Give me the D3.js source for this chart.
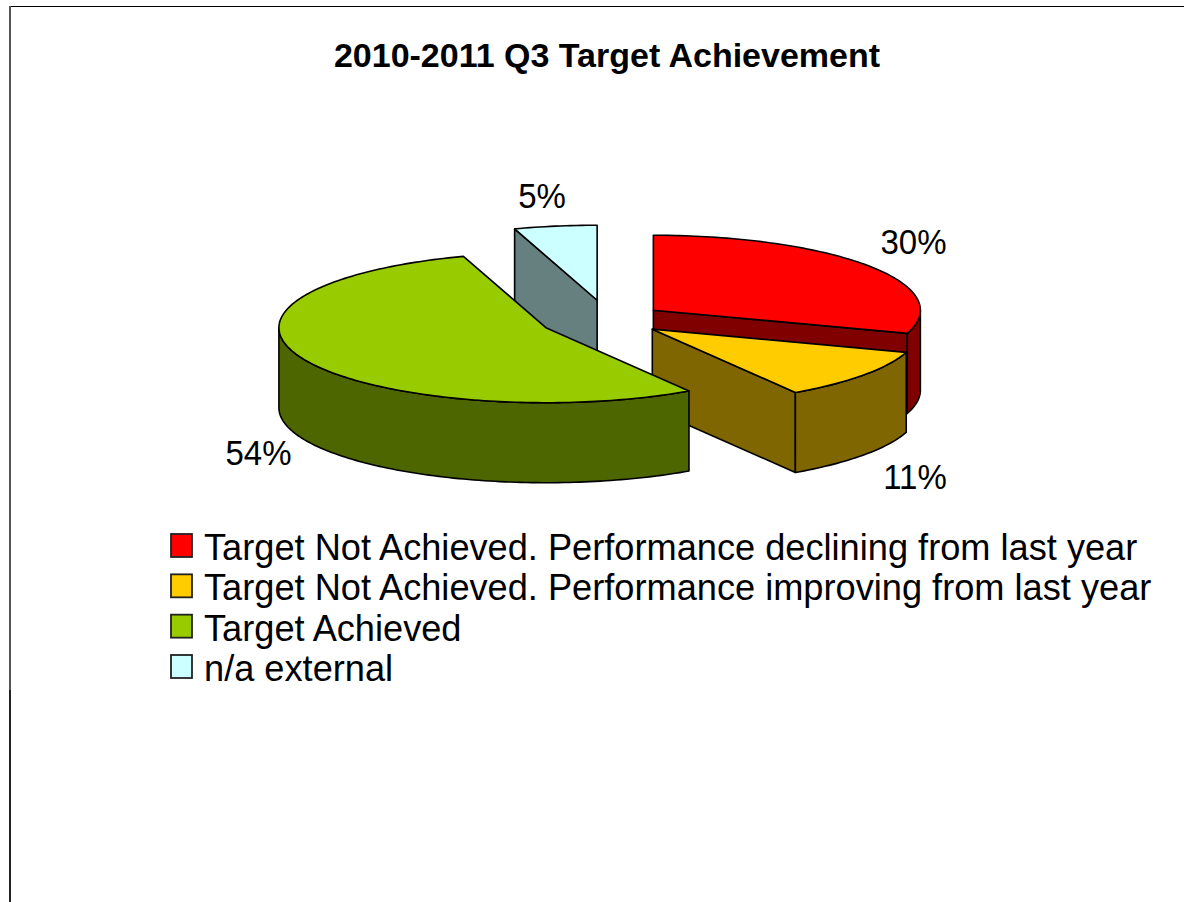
<!DOCTYPE html>
<html>
<head>
<meta charset="utf-8">
<script src="https://cdn.jsdelivr.net/npm/d3@7/dist/d3.min.js"></script>
<style>
  html, body { margin: 0; padding: 0; background: #fff; overflow: hidden; }
  svg { display: block; font-family: "Liberation Sans", Arial, sans-serif; }
</style>
</head>
<body>
<svg id="chart" width="1184" height="902"></svg>
<script>
const chartTitle = "2010-2011 Q3 Target Achievement";
const categories = [
  "Target Not Achieved. Performance declining from last year",
  "Target Not Achieved. Performance improving from last year",
  "Target Achieved",
  "n/a external"
];
const shares = [30, 11, 54, 5];
const explosion = [0.21, 0.21, 0.257, 0.26];
const topColors = ["#ff0000", "#ffcc00", "#99cc00", "#ccffff"];
const sideColors = ["#800000", "#806600", "#4d6600", "#668080"];

const width = 1184, height = 902;
const cx = 608, cy = 319.5, rx = 267, ry = 75, depth = 80;

const svg = d3.select("#chart");

// Page frame: top and left rules only
svg.append("path").attr("d", `M${width},6.5H10`).attr("stroke", "#000").attr("stroke-width", 1).attr("fill", "none");
svg.append("path").attr("d", "M10,6V690").attr("stroke", "#555").attr("stroke-width", 2).attr("fill", "none");
svg.append("path").attr("d", `M10,690V${height}`).attr("stroke", "#222").attr("stroke-width", 2).attr("fill", "none");

svg.append("text")
  .attr("x", 607).attr("y", 67)
  .attr("text-anchor", "middle")
  .attr("font-size", 34).attr("font-weight", 700)
  .text(chartTitle);

// Unit circle to tilted ellipse; v points up in unit space
const sx = d3.scaleLinear().domain([-1, 1]).range([cx - rx, cx + rx]);
const sy = d3.scaleLinear().domain([-1, 1]).range([cy + ry, cy - ry]);

const pie = d3.pie().sort(null).value(d => d.share).startAngle(0).endAngle(2 * Math.PI);
const slices = pie(categories.map((name, i) => ({ name, share: shares[i] })));

const outline = d3.line();

function project(s, angle, r, z) {
  const mid = (s.startAngle + s.endAngle) / 2;
  const e = explosion[s.index];
  const u = e * Math.sin(mid) + r * Math.sin(angle);
  const v = e * Math.cos(mid) + r * Math.cos(angle);
  return [sx(u), sy(v) + z];
}

function arcPoints(s, a0, a1, z) {
  const n = Math.max(2, Math.ceil((a1 - a0) / 0.02));
  return d3.range(n + 1).map(k => project(s, a0 + (a1 - a0) * k / n, 1, z));
}

// Straight wall from the apex out to the rim at a given angle
function radialWall(s, angle) {
  return [project(s, 0, 0, 0), project(s, angle, 1, 0), project(s, angle, 1, depth), project(s, 0, 0, depth)];
}

// Curved wall: only the front half of the rim can be seen
function rimWall(s) {
  const a0 = Math.max(s.startAngle, Math.PI / 2);
  const a1 = Math.min(s.endAngle, 3 * Math.PI / 2);
  if (a1 <= a0) return null;
  return arcPoints(s, a0, a1, 0).concat(arcPoints(s, a0, a1, depth).reverse());
}

function topFace(s) {
  return [project(s, 0, 0, 0)].concat(arcPoints(s, s.startAngle, s.endAngle, 0));
}

// Back to front: external, declining, improving, achieved
const drawOrder = [3, 0, 1, 2];
const pieGroup = svg.append("g")
  .attr("stroke", "#000").attr("stroke-width", 1.6).attr("stroke-linejoin", "round");

drawOrder.forEach(idx => {
  const s = slices[idx];
  const g = pieGroup.append("g");
  const addPoly = (pts, fill) => g.append("path").attr("d", outline(pts) + "Z").attr("fill", fill);

  // A radial wall shows only when its outward normal points toward the viewer
  if (Math.sin(s.startAngle) < -1e-9) addPoly(radialWall(s, s.startAngle), sideColors[idx]);
  if (Math.sin(s.endAngle) > 1e-9) addPoly(radialWall(s, s.endAngle), sideColors[idx]);

  const rim = rimWall(s);
  if (rim) addPoly(rim, sideColors[idx]);

  addPoly(topFace(s), topColors[idx]);
});

// Percentage labels placed around the slices, narrowed to fit their slots
const labelSpots = [[913.5, 254], [915, 489], [258.5, 465], [542, 208]];
svg.append("g").selectAll("text")
  .data(slices)
  .join("text")
  .attr("transform", (d, i) => `translate(${labelSpots[i][0]},${labelSpots[i][1]}) scale(0.917,1)`)
  .attr("text-anchor", "middle")
  .attr("font-size", 36)
  .text(d => `${d.data.share}%`);

// Legend
const rowY = d3.scalePoint().domain(d3.range(categories.length)).range([560, 681]);
const legend = svg.append("g").selectAll("g")
  .data(categories)
  .join("g")
  .attr("transform", (d, i) => `translate(0,${rowY(i)})`);

legend.append("rect")
  .attr("x", 171).attr("y", -26)
  .attr("width", 21).attr("height", 23)
  .attr("fill", (d, i) => topColors[i])
  .attr("stroke", "#222").attr("stroke-width", 1.8);

legend.append("text")
  .attr("x", 204).attr("y", 0)
  .attr("font-size", 36.2)
  .text(d => d);
</script>
</body>
</html>
